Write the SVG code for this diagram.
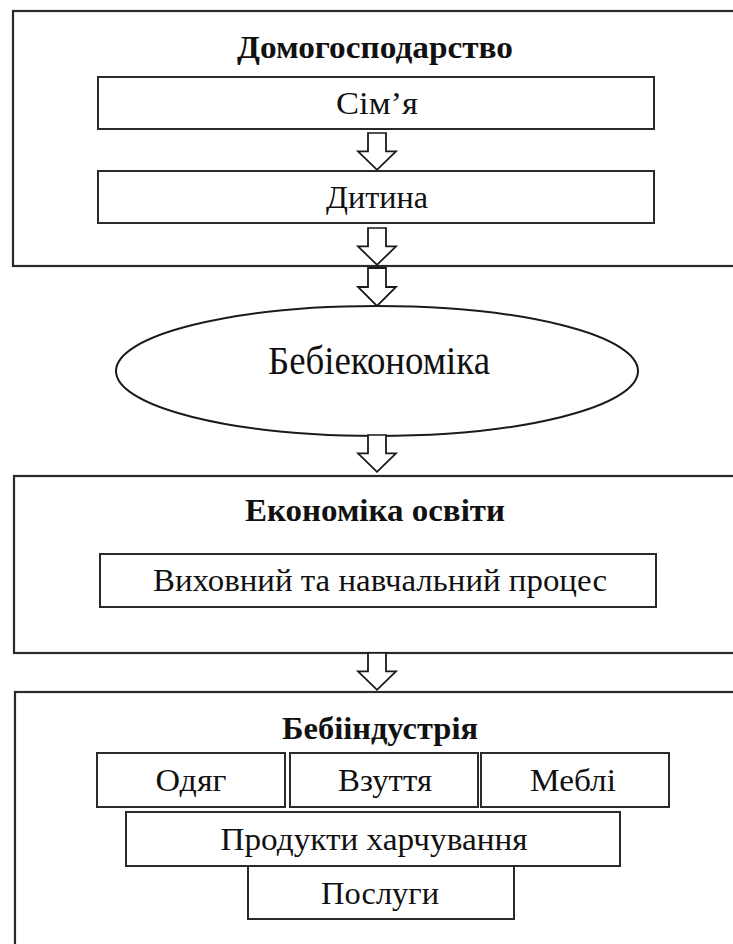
<svg xmlns="http://www.w3.org/2000/svg" width="733" height="944" viewBox="0 0 733 944">
<style>
.box{fill:#fff;stroke:#2a2a2a;stroke-width:2.2}
.inner{fill:#fff;stroke:#2a2a2a;stroke-width:2}
.arrow{fill:#fff;stroke:#1a1a1a;stroke-width:1.8;stroke-linejoin:miter}
.t{font-family:"Liberation Serif","Times New Roman",serif;font-size:32px;fill:#111;text-anchor:middle}
.b{font-weight:bold;font-size:32px}
</style>
<rect width="733" height="944" fill="#fff"/>
<g id="household">
<rect class="box" x="13" y="11" width="730" height="255"/>
<text class="t b" x="375" y="58" textLength="276" lengthAdjust="spacingAndGlyphs">Домогосподарство</text>
</g>
<g id="family">
<rect class="inner" x="98" y="77" width="556" height="52"/>
<text class="t" x="377" y="114" textLength="82" lengthAdjust="spacingAndGlyphs">Сім’я</text>
</g>
<g id="child">
<rect class="inner" x="98" y="171" width="556" height="52"/>
<text class="t" x="377" y="208" textLength="102" lengthAdjust="spacingAndGlyphs">Дитина</text>
</g>
<g id="babyeconomics">
<ellipse fill="#fff" stroke="#1a1a1a" stroke-width="2" cx="377" cy="371" rx="261" ry="65"/>
<text class="t" style="font-size:40px" x="379" y="374" textLength="222" lengthAdjust="spacingAndGlyphs">Бебіекономіка</text>
</g>
<g id="education">
<rect class="box" x="14" y="476" width="730" height="177"/>
<text class="t b" x="375" y="521" textLength="260" lengthAdjust="spacingAndGlyphs">Економіка освіти</text>
</g>
<g id="process">
<rect class="inner" x="100" y="554" width="556" height="53"/>
<text class="t" x="380" y="591" textLength="454" lengthAdjust="spacingAndGlyphs">Виховний та навчальний процес</text>
</g>
<g id="babyindustry">
<rect class="box" x="15" y="692" width="730" height="270"/>
<text class="t b" x="380" y="739" textLength="196" lengthAdjust="spacingAndGlyphs">Бебііндустрія</text>
</g>
<g id="clothes">
<rect class="inner" x="97" y="753" width="188" height="54"/>
<text class="t" x="191" y="791" textLength="71" lengthAdjust="spacingAndGlyphs">Одяг</text>
</g>
<g id="shoes">
<rect class="inner" x="290" y="753" width="188" height="54"/>
<text class="t" x="385" y="791" textLength="94" lengthAdjust="spacingAndGlyphs">Взуття</text>
</g>
<g id="furniture">
<rect class="inner" x="481" y="753" width="188" height="54"/>
<text class="t" x="573" y="791" textLength="86" lengthAdjust="spacingAndGlyphs">Меблі</text>
</g>
<g id="food">
<rect class="inner" x="126" y="812" width="494" height="54"/>
<text class="t" x="374" y="850" textLength="307" lengthAdjust="spacingAndGlyphs">Продукти харчування</text>
</g>
<g id="services">
<rect class="inner" x="248" y="866" width="266" height="53"/>
<text class="t" x="380" y="904" textLength="118" lengthAdjust="spacingAndGlyphs">Послуги</text>
</g>
<g id="connectors">
<defs>
<path id="arr" d="M-9,0 H9 V19 H19 L0,38 L-19,19 H-9 Z"/>
</defs>
<use href="#arr" class="arrow" transform="translate(377,133) scale(1,0.97)"/>
<use href="#arr" class="arrow" transform="translate(377,228) scale(1,0.97)"/>
<use href="#arr" class="arrow" transform="translate(377,268) scale(1,1.0)"/>
<use href="#arr" class="arrow" transform="translate(377,435) scale(1,0.97)"/>
<use href="#arr" class="arrow" transform="translate(377,653) scale(1,0.97)"/>
</g>
</svg>
